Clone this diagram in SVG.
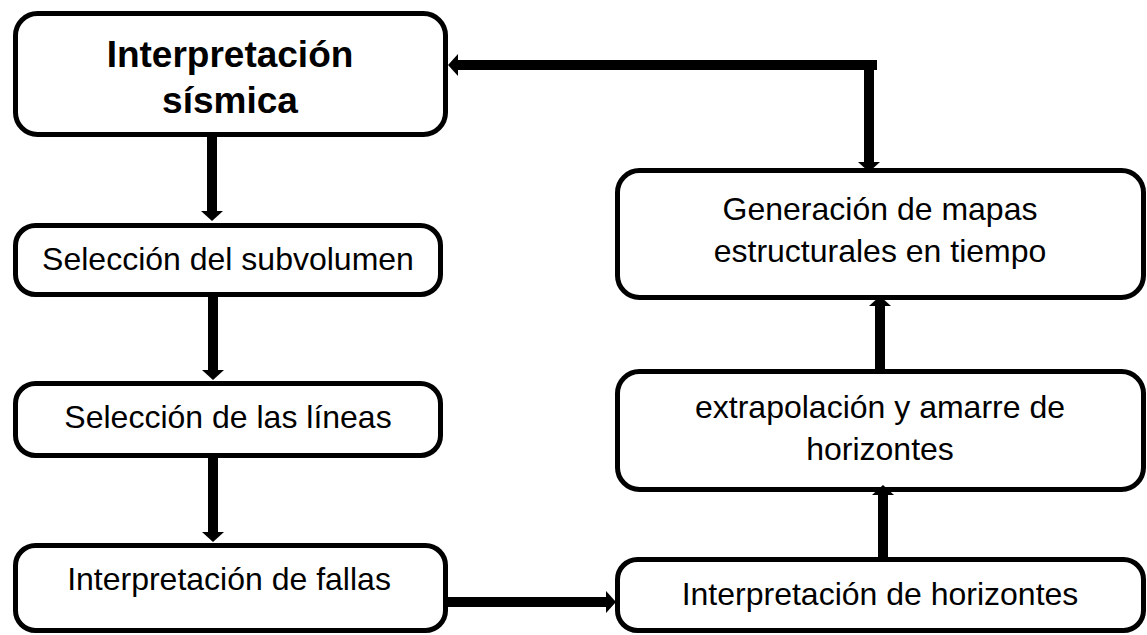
<svg xmlns="http://www.w3.org/2000/svg" width="1147" height="635" viewBox="0 0 1147 635">
  <style>
    .box { fill: #ffffff; stroke: #000000; stroke-width: 5; }
    .t { font-family: "Liberation Sans", Arial, sans-serif; font-size: 32px; fill: #000000; text-anchor: middle; }
    .tb { font-family: "Liberation Sans", Arial, sans-serif; font-size: 37px; font-weight: bold; fill: #000000; text-anchor: middle; }
    .c { stroke: #000000; stroke-width: 10; fill: none; }
  </style>
  <defs>
    <marker id="ah" markerUnits="userSpaceOnUse" markerWidth="10" markerHeight="22" refX="0" refY="11" orient="auto" overflow="visible">
      <path d="M0,0 L10,11 L0,22 Z" fill="#000000"/>
    </marker>
  </defs>
  <rect width="1147" height="635" fill="#ffffff"/>

  <g id="n1">
    <rect class="box" x="15.5" y="13.5" width="430" height="121" rx="22"/>
    <text class="tb" x="230" y="67">Interpretación</text>
    <text class="tb" x="230" y="113">sísmica</text>
  </g>
  <g id="n2">
    <rect class="box" x="15.5" y="225.5" width="425" height="69" rx="20"/>
    <text class="t" x="228" y="270">Selección del subvolumen</text>
  </g>
  <g id="n3">
    <rect class="box" x="15.5" y="383.5" width="425" height="72" rx="20"/>
    <text class="t" x="228" y="428">Selección de las líneas</text>
  </g>
  <g id="n4">
    <rect class="box" x="15.5" y="545.5" width="430" height="85" rx="20"/>
    <text class="t" x="229" y="590">Interpretación de fallas</text>
  </g>
  <g id="n5">
    <rect class="box" x="617.5" y="170.5" width="526" height="127" rx="22"/>
    <text class="t" x="880" y="220">Generación de mapas</text>
    <text class="t" x="880" y="262">estructurales en tiempo</text>
  </g>
  <g id="n6">
    <rect class="box" x="617.5" y="371.5" width="526" height="118" rx="22"/>
    <text class="t" x="880" y="418">extrapolación y amarre de</text>
    <text class="t" x="880" y="460">horizontes</text>
  </g>
  <g id="n7">
    <rect class="box" x="617.5" y="559.5" width="526" height="71" rx="20"/>
    <text class="t" x="880" y="605">Interpretación de horizontes</text>
  </g>

  <g id="connectors">
    <line class="c" x1="212" y1="137" x2="212" y2="211" marker-end="url(#ah)"/>
    <line class="c" x1="213" y1="297" x2="213" y2="370" marker-end="url(#ah)"/>
    <line class="c" x1="213" y1="458" x2="213" y2="532" marker-end="url(#ah)"/>
    <line class="c" x1="447" y1="602" x2="606" y2="602" marker-end="url(#ah)"/>
    <line class="c" x1="883" y1="559" x2="883" y2="495" marker-end="url(#ah)"/>
    <line class="c" x1="880" y1="371" x2="880" y2="306" marker-end="url(#ah)"/>
    <line class="c" x1="877" y1="65" x2="458" y2="65" marker-end="url(#ah)"/>
    <line class="c" x1="869" y1="62" x2="869" y2="162" marker-end="url(#ah)"/>
  </g>
</svg>
